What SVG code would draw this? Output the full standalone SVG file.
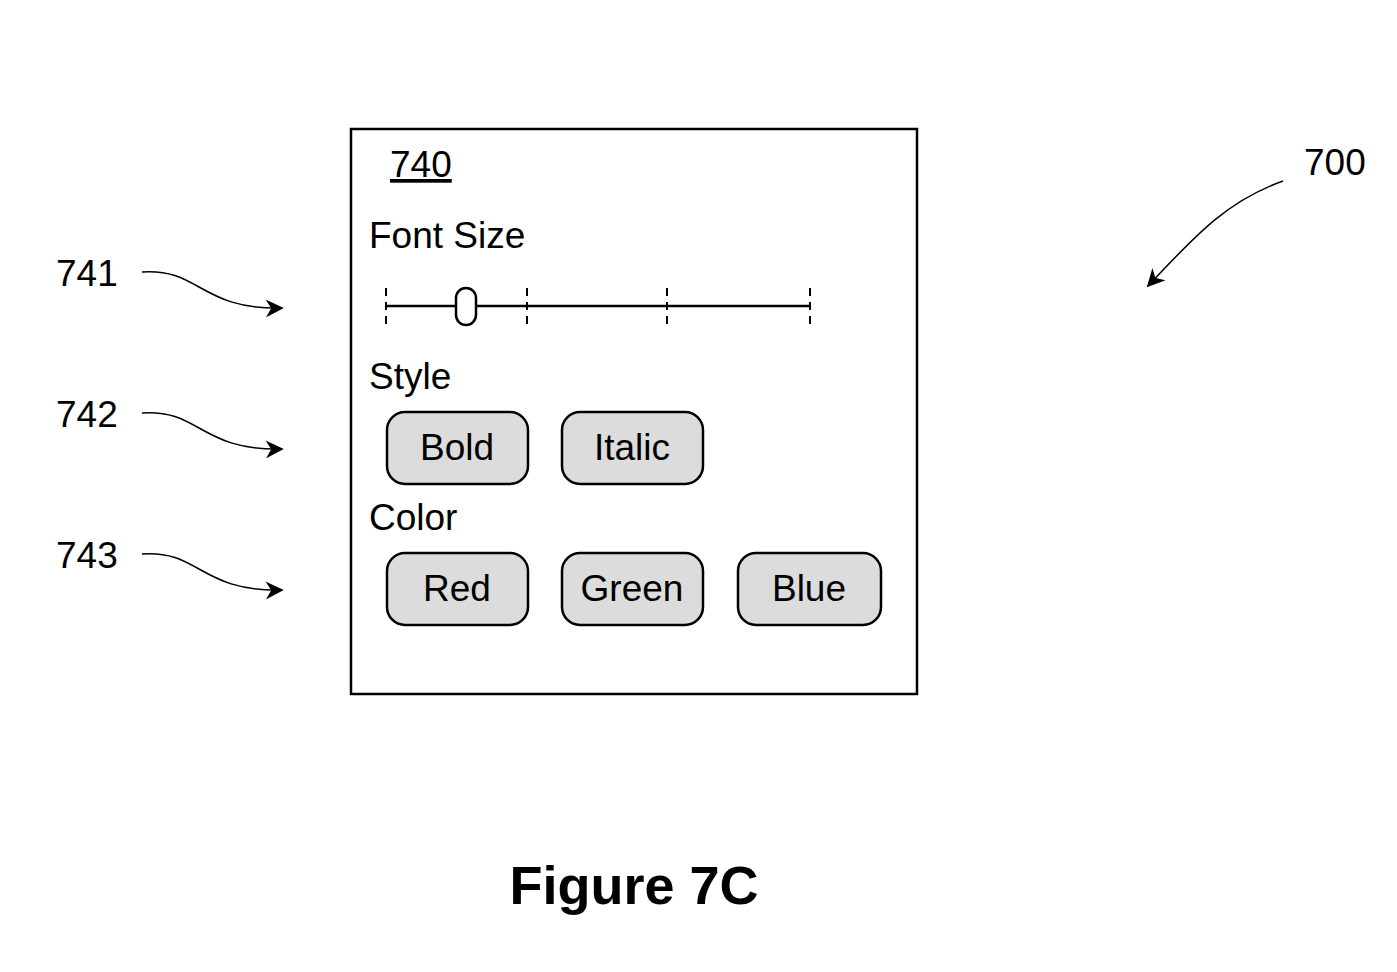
<svg xmlns="http://www.w3.org/2000/svg" width="1397" height="972" viewBox="0 0 1397 972">
<defs>
<marker id="ah" viewBox="0 0 10 10" refX="9" refY="5" markerWidth="22" markerHeight="18" markerUnits="userSpaceOnUse" orient="auto"><path d="M0,0 L10,5 L0,10 L3,5 Z" fill="#000"/></marker>
</defs>
<style>
text{font-family:"Liberation Sans",Arial,sans-serif;font-size:37px;fill:#000}
.btn{fill:#dcdcdc;stroke:#000;stroke-width:2.5}
.c{stroke:#000;stroke-width:1.5;fill:none}
.t{stroke:#000;stroke-width:2;stroke-dasharray:8,6}
</style>
<rect width="1397" height="972" fill="#fff"/>
<g id="panel740">
<rect x="351" y="129" width="566" height="565" fill="none" stroke="#000" stroke-width="2.5"/>
<text x="390" y="177" text-decoration="underline">740</text>
<text x="369" y="248">Font Size</text>
<line x1="386" y1="306" x2="810" y2="306" stroke="#000" stroke-width="2.5"/>
<line class="t" x1="386" y1="288" x2="386" y2="326"/>
<line class="t" x1="527" y1="288" x2="527" y2="326"/>
<line class="t" x1="667" y1="288" x2="667" y2="326"/>
<line class="t" x1="810" y1="288" x2="810" y2="326"/>
<rect x="456" y="288" width="20" height="37" rx="10" fill="#fff" stroke="#000" stroke-width="2.5"/>
<text x="369" y="389">Style</text>
<text x="369" y="530">Color</text>
</g>
<g id="bold"><rect class="btn" x="387" y="412" width="141" height="72" rx="18"/><text x="457" y="460" text-anchor="middle">Bold</text></g>
<g id="italic"><rect class="btn" x="562" y="412" width="141" height="72" rx="18"/><text x="632" y="460" text-anchor="middle">Italic</text></g>
<g id="red"><rect class="btn" x="387" y="553" width="141" height="72" rx="18"/><text x="457" y="601" text-anchor="middle">Red</text></g>
<g id="green"><rect class="btn" x="562" y="553" width="141" height="72" rx="18"/><text x="632" y="601" text-anchor="middle">Green</text></g>
<g id="blue"><rect class="btn" x="738" y="553" width="143" height="72" rx="18"/><text x="809" y="601" text-anchor="middle">Blue</text></g>
<g id="labels">
<text x="56" y="286">741</text>
<text x="56" y="427">742</text>
<text x="56" y="568">743</text>
<text x="1304" y="175">700</text>
</g>
<g id="connectors">
<path class="c" marker-end="url(#ah)" d="M142,272 C200,268 200,310 282,308"/>
<path class="c" marker-end="url(#ah)" d="M142,413 C200,409 200,451 282,449"/>
<path class="c" marker-end="url(#ah)" d="M142,554 C200,550 200,592 282,590"/>
<path class="c" marker-end="url(#ah)" d="M1283,181 C1230,200 1200,230 1148,286"/>
</g>
<text x="634" y="904" text-anchor="middle" font-weight="bold" style="font-size:54px">Figure 7C</text>
</svg>
